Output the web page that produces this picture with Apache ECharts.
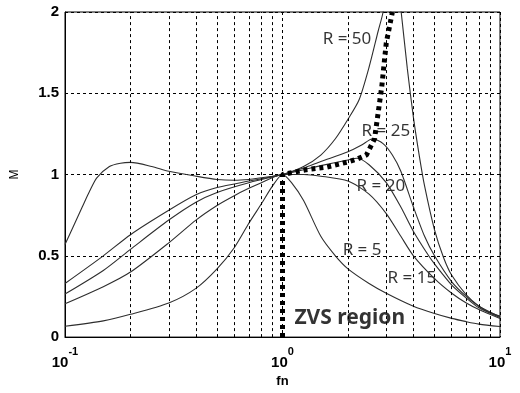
<!DOCTYPE html>
<html>
<head>
<meta charset="utf-8">
<script src="https://cdn.jsdelivr.net/npm/echarts@6/dist/echarts.min.js"></script>
<style>
  html, body { margin: 0; padding: 0; background: #fff; }
  #chart { width: 520px; height: 393px; }
</style>
</head>
<body>
<div id="chart"></div>
<script>
// gain curves M(fn) as [fn, M]
const r50 = [[0.1,0.57],[0.11,0.69],[0.12,0.80],[0.13,0.90],[0.14,0.98],[0.16,1.05],[0.18,1.07],[0.2,1.075],[0.25,1.05],[0.3,1.02],[0.4,0.99],[0.5,0.97],[0.6,0.965],[0.7,0.97],[0.8,0.98],[0.9,0.99],[1,1],[1.25,1.05],[1.5,1.12],[1.75,1.22],[2,1.34],[2.25,1.46],[2.5,1.66],[2.75,1.88],[2.9,2.0],[3.1,2.3],[3.3,2.3],[3.5,2.02],[3.75,1.65],[4,1.35],[4.25,1.12],[4.5,0.93],[5,0.66],[5.5,0.49],[6,0.38],[7,0.26],[8,0.19],[9,0.15],[10,0.13]];
const r25 = [[0.1,0.33],[0.15,0.5],[0.2,0.63],[0.3,0.78],[0.4,0.875],[0.5,0.92],[0.7,0.96],[1,1],[1.25,1.04],[1.5,1.08],[2,1.14],[2.3,1.18],[2.6,1.22],[2.9,1.19],[3.2,1.12],[3.5,1.02],[4,0.8],[4.5,0.62],[5,0.5],[6,0.34],[7,0.25],[8,0.19],[10,0.125]];
const r20 = [[0.1,0.265],[0.15,0.41],[0.2,0.54],[0.3,0.72],[0.4,0.83],[0.5,0.89],[0.7,0.95],[1,1],[1.25,1.03],[1.5,1.055],[2,1.09],[2.2,1.1],[2.5,1.06],[3,0.95],[3.5,0.8],[4,0.65],[4.7,0.5],[5,0.45],[6,0.32],[7,0.24],[8,0.18],[10,0.12]];
const r15 = [[0.1,0.205],[0.15,0.31],[0.2,0.40],[0.3,0.58],[0.4,0.72],[0.5,0.81],[0.6,0.87],[0.7,0.915],[0.8,0.95],[1,1],[1.25,1.0],[1.5,0.99],[2,0.96],[2.5,0.88],[3,0.76],[3.5,0.62],[4,0.5],[5,0.36],[6,0.27],[7,0.21],[8,0.17],[10,0.115]];
const r5 = [[0.1,0.067],[0.15,0.1],[0.2,0.14],[0.3,0.21],[0.4,0.30],[0.5,0.42],[0.6,0.55],[0.7,0.70],[0.8,0.82],[0.9,0.93],[1,1],[1.1,0.95],[1.25,0.84],[1.5,0.62],[1.75,0.5],[2,0.42],[2.5,0.33],[3,0.27],[4,0.19],[5,0.145],[6,0.115],[7,0.095],[8,0.08],[10,0.065]];
// thick dotted ZVS boundary
const zvs = [[1,0],[1,1],[1.29,1.03],[1.59,1.045],[2.03,1.08],[2.2,1.095],[2.43,1.12],[2.65,1.22],[2.86,1.54],[3.0,1.81],[3.2,2.0]];

// minor log gridlines
const minorGrid = [0.2,0.3,0.4,0.5,0.6,0.7,0.8,0.9,2,3,4,5,6,7,8,9];

// annotation texts and where they sit [text, fn, M]
const notes = [
  ['R = 50', 1.53, 1.83],
  ['R = 25', 2.31, 1.27],
  ['R = 20', 2.19, 0.93],
  ['R = 5', 1.89, 0.535],
  ['R = 15', 3.04, 0.36]
];
const zvsNote = ['ZVS region', 1.135, 0.115];

const chart = echarts.init(document.getElementById('chart'));

const gridDash = { type: [3, 3], color: '#000', width: 1 };
const curve = (data) => ({
  type: 'line',
  data: data,
  smooth: 0.25,
  symbol: 'none',
  lineStyle: { color: '#2e2e2e', width: 1.1 },
  clip: true,
  silent: true
});

const option = {
  animation: false,
  grid: { left: 65, right: 20, top: 12, bottom: 52, show: true, borderColor: '#000', borderWidth: 1 },
  xAxis: {
    type: 'log',
    logBase: 10,
    min: 0.1,
    max: 10,
    name: 'fn',
    nameLocation: 'middle',
    nameGap: 37,
    nameTextStyle: { fontFamily: 'Liberation Sans', fontWeight: 'bold', fontSize: 13, color: '#000' },
    axisLine: { lineStyle: { color: '#000' } },
    axisTick: { show: false },
    axisLabel: {
      margin: 9,
      formatter: (v) => '{b|10}{s|' + Math.round(Math.log10(v)) + '}',
      rich: {
        b: { fontFamily: 'Liberation Sans', fontWeight: 'bold', fontSize: 15, color: '#000', lineHeight: 24, verticalAlign: 'bottom' },
        s: { fontFamily: 'Liberation Sans', fontWeight: 'bold', fontSize: 11, color: '#000', lineHeight: 24, verticalAlign: 'top' }
      }
    },
    splitLine: { show: true, lineStyle: gridDash },
    minorTick: { show: false },
    minorSplitLine: { show: false }
  },
  yAxis: {
    type: 'value',
    min: 0,
    max: 2,
    interval: 0.5,
    name: 'M',
    nameLocation: 'middle',
    nameGap: 44,
    nameRotate: 90,
    nameTextStyle: { fontFamily: 'Liberation Sans', fontSize: 12, color: '#000' },
    axisLine: { show: true, lineStyle: { color: '#000' } },
    axisTick: { show: false },
    axisLabel: { margin: 6, fontFamily: 'Liberation Sans', fontWeight: 'bold', fontSize: 15, color: '#000' },
    splitLine: { show: true, lineStyle: gridDash }
  },
  series: [
    Object.assign(curve(r50), {
      markLine: {
        silent: true,
        symbol: 'none',
        label: { show: false },
        lineStyle: gridDash,
        data: minorGrid.map((v) => ({ xAxis: v }))
      }
    }),
    curve(r25),
    curve(r20),
    curve(r15),
    curve(r5),
    {
      type: 'line',
      data: zvs,
      symbol: 'none',
      silent: true,
      lineStyle: { color: '#000', width: 5, type: [4, 4], cap: 'butt' }
    },
    {
      type: 'scatter',
      symbolSize: 0,
      silent: true,
      data: notes.map((n) => ({ name: n[0], value: [n[1], n[2]] })),
      label: {
        show: true,
        position: 'right',
        distance: 0,
        formatter: (p) => p.name,
        fontFamily: 'Noto Sans',
        fontSize: 17,
        color: '#000'
      }
    },
    {
      type: 'scatter',
      symbolSize: 0,
      silent: true,
      data: [{ name: zvsNote[0], value: [zvsNote[1], zvsNote[2]] }],
      label: {
        show: true,
        position: 'right',
        distance: 0,
        formatter: (p) => p.name,
        fontFamily: 'Noto Sans',
        fontWeight: 'bold',
        fontSize: 21,
        color: '#000'
      }
    }
  ]
};

chart.setOption(option);
</script>
</body>
</html>
